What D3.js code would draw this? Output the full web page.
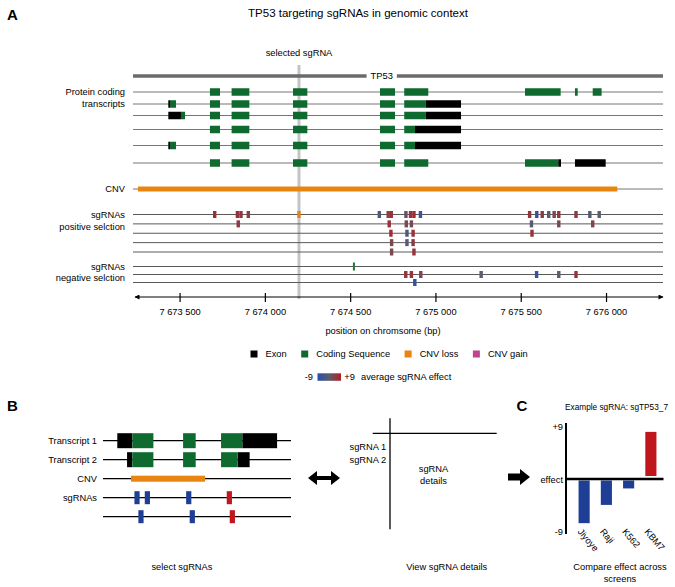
<!DOCTYPE html>
<html><head><meta charset="utf-8">
<script src="https://cdn.jsdelivr.net/npm/d3@7"></script>
<style>
body{margin:0;background:#fff}
text{font-family:"Liberation Sans",Arial,Helvetica,sans-serif;fill:#000}
</style>
</head><body><svg id="c" width="675" height="587" xmlns="http://www.w3.org/2000/svg"></svg>
<script>
// ================= DATA =================
const titleText = "TP53 targeting sgRNAs in genomic context";
const viewWindow = [7673227, 7676334];           // genomic window shown (bp)
const tickValues = [7673500, 7674000, 7674500, 7675000, 7675500, 7676000];
const geneName = "TP53";
const geneLabelPos = 7674685;
const selectedSgRNA = ["p1", 7674200];           // highlighted (orange) sgRNA + grey guide line
const otherHighlighted = [["n1", 7674522]];      // green marked sgRNA
const transcripts = ["t1","t2","t3","t4","t5","t6"];
const sharedCodingExons = [[7673678,7673737],[7673805,7673909],[7674165,7674249],[7674675,7674763]];
const codingSegments = [
  ["t1",7674817,7674958],["t1",7675525,7675734],["t1",7675818,7675834],["t1",7675922,7675974],
  ["t2",7673444,7673479],["t2",7674817,7674943],
  ["t3",7673508,7673532],["t3",7674817,7674943],
  ["t4",7674817,7674880],
  ["t5",7673444,7673479],["t5",7674817,7674880],
  ["t6",7674817,7674958],["t6",7675525,7675720]
];
const exonSegments = [
  ["t2",7673434,7673444],["t2",7674943,7675150],
  ["t3",7673434,7673508],["t3",7674943,7675150],
  ["t4",7674880,7675150],
  ["t5",7673434,7673444],["t5",7674880,7675150],
  ["t6",7675720,7675736],["t6",7675818,7675998]
];
const cnvLoss = [[7673256, 7676066]];
const positiveRows = ["p1","p2","p3","p4","p5"];
const negativeRows = ["n1","n2","n3"];
// [row, centre position (bp), average sgRNA effect]
const sgRNAs = [
  ["p1",7673706,7],["p1",7673839,6],["p1",7673860,6],["p1",7673903,4],
  ["p1",7674671,-2],["p1",7674723,4],["p1",7674741,6],["p1",7674827,1],["p1",7674854,6],["p1",7674874,7],["p1",7674912,-6],
  ["p1",7675552,6],["p1",7675594,-7],["p1",7675626,5],["p1",7675664,-1],["p1",7675696,3],["p1",7675723,6],["p1",7675824,5],["p1",7675905,-1],["p1",7675960,0],
  ["p2",7673844,5],["p2",7674729,6],["p2",7674829,3],["p2",7674859,3],["p2",7675563,-1],["p2",7675723,3],["p2",7675922,4],
  ["p3",7674739,7],["p3",7674833,-2],["p3",7674869,6],["p3",7675566,6],
  ["p4",7674743,3],["p4",7674833,-1],["p4",7674869,5],
  ["p5",7674743,3],["p5",7674874,6],
  ["n2",7674826,6],["n2",7674859,6],["n2",7674914,3],["n2",7675268,0],["n2",7675593,-7],["n2",7675723,0],["n2",7675824,6],
  ["n3",7674879,-8]
];
const legendItems = [["Exon","#000000"],["Coding Sequence","#0f6a2f"],["CNV loss","#ea8410"],["CNV gain","#c0458c"]];
const effectDomain = [-9, 0, 9];

// Panel B schematic (arbitrary units 0..100)
const schemRows = ["Transcript 1","Transcript 2","CNV","sgRNAs",""];
const schemExons = [["Transcript 1",7.6,15.6],["Transcript 1",74.1,92.6],["Transcript 2",12.8,15.6],["Transcript 2",71.6,78]];
const schemCoding = [["Transcript 1",15.6,26.8],["Transcript 1",42.6,49.3],["Transcript 1",62.8,74.1],
                     ["Transcript 2",15.6,26.8],["Transcript 2",42.6,49.3],["Transcript 2",62.8,71.6]];
const schemCnv = [["CNV",14.9,54.3]];
const schemSgRNAs = [["sgRNAs",18.1,-8],["sgRNAs",23.6,-8],["sgRNAs",45.6,-8],["sgRNAs",67.2,8],
                     ["",20.2,-8],["",47.5,-8],["",68.8,8]];
const detailRows = ["sgRNA 1","sgRNA 2"];

// Panel C
const screens = ["Jiyoye","Raji","K562","KBM7"];
const screenEffects = [-7.5, -4.4, -1.6, 8.0];
const exampleName = "Example sgRNA: sgTP53_7";

// ================= DRAW =================
const svg = d3.select("#c");
svg.append("rect").attr("width",675).attr("height",587).attr("fill","#fff");
const FS = 9.3;
const font = '"Liberation Sans",Arial,sans-serif';

const green = "#0f6a2f", orange = "#ea8410";
const effectColor = d3.scaleLinear().domain(effectDomain).range(["#2a4fb2","#5c5c6a","#b41f22"]);

// ---------- Panel A ----------
const x = d3.scaleLinear().domain(viewWindow).range([133, 663]);
const yT = d3.scaleOrdinal().domain(transcripts).range([92, 104, 115.5, 129.5, 145.5, 163]);
const yP = d3.scalePoint().domain(positiveRows).range([214.5, 252]);
const yN = d3.scalePoint().domain(negativeRows).range([266.5, 282.5]);
const yS = r => r[0]==="p" ? yP(r) : yN(r);
const yCnv = 189, yGene = 76, yAxis = 297;

svg.append("text").attr("x",7).attr("y",14).attr("dominant-baseline","central")
  .attr("font-size",15).attr("font-weight","bold").text("A");
svg.append("text").attr("x",358).attr("y",13).attr("text-anchor","middle").attr("dominant-baseline","central")
  .attr("font-size",11.5).text(titleText);

// selected sgRNA guide line
svg.append("line").attr("x1",x(selectedSgRNA[1])).attr("x2",x(selectedSgRNA[1]))
  .attr("y1",65).attr("y2",yAxis+2).attr("stroke","#c4c4c4").attr("stroke-width",3);
svg.append("text").attr("x",x(selectedSgRNA[1])).attr("y",53).attr("text-anchor","middle")
  .attr("dominant-baseline","central").attr("font-size",FS).text("selected sgRNA");

// gene line
const gl = svg.append("text").attr("x",x(geneLabelPos)).attr("y",yGene).attr("text-anchor","middle")
  .attr("dominant-baseline","central").attr("font-size",FS).text(geneName);
const gw = gl.node().getComputedTextLength();
svg.append("line").attr("x1",x(viewWindow[0])).attr("x2",x(geneLabelPos)-gw/2-4)
  .attr("y1",yGene).attr("y2",yGene).attr("stroke","#6b6b6b").attr("stroke-width",3.5);
svg.append("line").attr("x1",x(geneLabelPos)+gw/2+4).attr("x2",x(viewWindow[1]))
  .attr("y1",yGene).attr("y2",yGene).attr("stroke","#6b6b6b").attr("stroke-width",3.5);

// transcripts
svg.append("g").selectAll("line").data(transcripts).join("line")
  .attr("x1",x(viewWindow[0])).attr("x2",x(viewWindow[1]))
  .attr("y1",d=>yT(d)).attr("y2",d=>yT(d)).attr("stroke","#777").attr("stroke-width",1);
const allCoding = transcripts.flatMap(t => sharedCodingExons.map(e => [t, e[0], e[1]])).concat(codingSegments);
const exH = 7.5;
svg.append("g").selectAll("rect").data(allCoding).join("rect")
  .attr("x",d=>x(d[1])).attr("width",d=>x(d[2])-x(d[1]))
  .attr("y",d=>yT(d[0])-exH/2).attr("height",exH).attr("fill",green);
svg.append("g").selectAll("rect").data(exonSegments).join("rect")
  .attr("x",d=>x(d[1])).attr("width",d=>x(d[2])-x(d[1]))
  .attr("y",d=>yT(d[0])-exH/2).attr("height",exH).attr("fill","#000");
svg.append("text").attr("x",125).attr("y",yT("t1")).attr("text-anchor","end").attr("dominant-baseline","central")
  .attr("font-size",FS).text("Protein coding");
svg.append("text").attr("x",125).attr("y",yT("t2")).attr("text-anchor","end").attr("dominant-baseline","central")
  .attr("font-size",FS).text("transcripts");

// CNV
svg.append("line").attr("x1",x(viewWindow[0])).attr("x2",x(viewWindow[1]))
  .attr("y1",yCnv).attr("y2",yCnv).attr("stroke","#777").attr("stroke-width",1);
svg.append("g").selectAll("rect").data(cnvLoss).join("rect")
  .attr("x",d=>x(d[0])).attr("width",d=>x(d[1])-x(d[0]))
  .attr("y",yCnv-2.5).attr("height",5).attr("fill",orange);
svg.append("text").attr("x",125).attr("y",yCnv).attr("text-anchor","end").attr("dominant-baseline","central")
  .attr("font-size",FS).text("CNV");

// sgRNA tracks
svg.append("g").selectAll("line").data(positiveRows.concat(negativeRows)).join("line")
  .attr("x1",x(viewWindow[0])).attr("x2",x(viewWindow[1]))
  .attr("y1",d=>yS(d)).attr("y2",d=>yS(d)).attr("stroke","#5a5a5a").attr("stroke-width",1);
const sgW = d => Math.max(3.2, x(d+10)-x(d-10));
svg.append("g").selectAll("rect").data(sgRNAs).join("rect")
  .attr("x",d=>x(d[1])-sgW(d[1])/2).attr("width",d=>sgW(d[1]))
  .attr("y",d=>yS(d[0])-3.5).attr("height",7).attr("fill",d=>effectColor(d[2]));
svg.append("rect").attr("x",x(selectedSgRNA[1])-1.7).attr("width",3.4)
  .attr("y",yS(selectedSgRNA[0])-3.5).attr("height",7).attr("fill",orange);
svg.append("g").selectAll("rect").data(otherHighlighted).join("rect")
  .attr("x",d=>x(d[1])-1).attr("width",2)
  .attr("y",d=>yS(d[0])-4).attr("height",8).attr("fill","#1d7a35");
[["sgRNAs",yP("p1")],["positive selction",226.5],["sgRNAs",yN("n1")],["negative selction",277.5]].forEach(l=>{
  svg.append("text").attr("x",125).attr("y",l[1]).attr("text-anchor","end").attr("dominant-baseline","central")
    .attr("font-size",FS).text(l[0]);
});

// axis
const defs = svg.append("defs");
defs.append("marker").attr("id","ah").attr("viewBox","0 0 10 10").attr("refX",9).attr("refY",5)
  .attr("markerWidth",7).attr("markerHeight",5).attr("markerUnits","userSpaceOnUse").attr("orient","auto-start-reverse")
  .append("path").attr("d","M0,0L10,5L0,10z").attr("fill","#000");
svg.append("line").attr("x1",x(viewWindow[0])+2).attr("x2",x(viewWindow[1]))
  .attr("y1",yAxis).attr("y2",yAxis).attr("stroke","#000").attr("stroke-width",1)
  .attr("marker-start","url(#ah)").attr("marker-end","url(#ah)");
const spaceFmt = d3.formatLocale({decimal:".",thousands:" ",grouping:[3],currency:["",""]}).format(",");
const ax = svg.append("g").attr("transform",`translate(0,${yAxis})`)
  .call(d3.axisBottom(x).tickValues(tickValues).tickFormat(spaceFmt).tickSize(5).tickPadding(6));
ax.select(".domain").remove();
ax.selectAll(".tick line").attr("y1",-4).attr("y2",5).attr("stroke-width",1.2);
ax.selectAll(".tick text").attr("font-family",font).attr("font-size",FS).attr("fill","#000");
svg.append("text").attr("x",383).attr("y",331).attr("text-anchor","middle").attr("dominant-baseline","central")
  .attr("font-size",FS).text("position on chromsome (bp)");

// legend row 1
let lx = 250.5;
legendItems.forEach(it=>{
  svg.append("rect").attr("x",lx).attr("y",354-3.5).attr("width",7).attr("height",7).attr("fill",it[1]);
  const t = svg.append("text").attr("x",lx+15).attr("y",354).attr("dominant-baseline","central")
    .attr("font-size",FS).text(it[0]);
  lx += 15 + t.node().getComputedTextLength() + 14.5;
});
// legend row 2 (gradient)
const grad = defs.append("linearGradient").attr("id","eg");
effectDomain.forEach((v,i)=>grad.append("stop").attr("offset",(i/(effectDomain.length-1)*100)+"%").attr("stop-color",effectColor(v)));
svg.append("text").attr("x",313).attr("y",377).attr("text-anchor","end").attr("dominant-baseline","central")
  .attr("font-size",FS).text("-9");
svg.append("rect").attr("x",317.5).attr("y",373.3).attr("width",23.5).attr("height",7.5).attr("fill","url(#eg)");
svg.append("text").attr("x",344.3).attr("y",377).attr("dominant-baseline","central").attr("font-size",FS).text("+9");
svg.append("text").attr("x",361).attr("y",377).attr("dominant-baseline","central").attr("font-size",FS).text("average sgRNA effect");

// ---------- Panel B ----------
svg.append("text").attr("x",7).attr("y",405).attr("dominant-baseline","central")
  .attr("font-size",15).attr("font-weight","bold").text("B");
const xs = d3.scaleLinear().domain([0,100]).range([103, 291]);
const ys = d3.scalePoint().domain(schemRows).range([440.7, 516.7]);
svg.append("g").selectAll("line").data(schemRows).join("line")
  .attr("x1",xs(0)).attr("x2",xs(100)).attr("y1",d=>ys(d)).attr("y2",d=>ys(d))
  .attr("stroke","#000").attr("stroke-width",1.2);
svg.append("g").selectAll("text").data(schemRows.filter(d=>d)).join("text")
  .attr("x",97).attr("y",d=>ys(d)).attr("text-anchor","end").attr("dominant-baseline","central")
  .attr("font-size",FS).text(d=>d);
svg.append("g").selectAll("rect").data(schemExons).join("rect")
  .attr("x",d=>xs(d[1])).attr("width",d=>xs(d[2])-xs(d[1])).attr("y",d=>ys(d[0])-7.5).attr("height",15).attr("fill","#000");
svg.append("g").selectAll("rect").data(schemCoding).join("rect")
  .attr("x",d=>xs(d[1])).attr("width",d=>xs(d[2])-xs(d[1])).attr("y",d=>ys(d[0])-7.5).attr("height",15).attr("fill",green);
svg.append("g").selectAll("rect").data(schemCnv).join("rect")
  .attr("x",d=>xs(d[1])).attr("width",d=>xs(d[2])-xs(d[1])).attr("y",d=>ys(d[0])-3).attr("height",6).attr("fill",orange);
svg.append("g").selectAll("rect").data(schemSgRNAs).join("rect")
  .attr("x",d=>xs(d[1])-2.6).attr("width",5.2).attr("y",d=>ys(d[0])-6.5).attr("height",13)
  .attr("fill",d=>d[2]<0?"#1f3f96":"#c0171c");
svg.append("text").attr("x",xs(42)).attr("y",567).attr("text-anchor","middle").attr("dominant-baseline","central")
  .attr("font-size",FS).text("select sgRNAs");

// double arrow
svg.append("path").attr("d","M308,478 L317,471 L317,476 L331,476 L331,471 L340,478 L331,485 L331,480 L317,480 L317,485 Z").attr("fill","#000");

// detail box
svg.append("line").attr("x1",372.7).attr("x2",496.7).attr("y1",433.3).attr("y2",433.3).attr("stroke","#000").attr("stroke-width",1.3);
svg.append("line").attr("x1",390).attr("x2",390).attr("y1",418.3).attr("y2",529.3).attr("stroke","#000").attr("stroke-width",1.3);
const yd = d3.scalePoint().domain(detailRows).range([446.7, 460]);
svg.append("g").selectAll("text").data(detailRows).join("text")
  .attr("x",349.5).attr("y",d=>yd(d)).attr("dominant-baseline","central").attr("font-size",FS).text(d=>d);
svg.append("text").attr("x",433.5).attr("y",469.3).attr("text-anchor","middle").attr("dominant-baseline","central").attr("font-size",FS).text("sgRNA");
svg.append("text").attr("x",433.5).attr("y",481).attr("text-anchor","middle").attr("dominant-baseline","central").attr("font-size",FS).text("details");
svg.append("text").attr("x",446.7).attr("y",567).attr("text-anchor","middle").attr("dominant-baseline","central")
  .attr("font-size",FS).text("View sgRNA details");

// right arrow
svg.append("path").attr("d","M508,473.5 L520,473.5 L520,469 L530,477 L520,485 L520,480.5 L508,480.5 Z").attr("fill","#000");

// ---------- Panel C ----------
svg.append("text").attr("x",516.5).attr("y",405).attr("dominant-baseline","central")
  .attr("font-size",15).attr("font-weight","bold").text("C");
svg.append("text").attr("x",616.5).attr("y",407.3).attr("text-anchor","middle").attr("dominant-baseline","central")
  .attr("font-size",8.2).attr("textLength",103).attr("lengthAdjust","spacingAndGlyphs").text(exampleName);
const yC = d3.scaleLinear().domain([-9,9]).range([532,426]);
const xC = d3.scaleBand().domain(screens).range([573,662]).paddingInner(0.5).paddingOuter(0.25);
svg.append("g").selectAll("rect").data(screens).join("rect")
  .attr("x",d=>xC(d)).attr("width",xC.bandwidth())
  .attr("y",(d,i)=>screenEffects[i]<0 ? yC(0)+1.5 : yC(screenEffects[i]))
  .attr("height",(d,i)=>screenEffects[i]<0 ? yC(screenEffects[i])-yC(0)-1.5 : yC(0)-yC(screenEffects[i])-3)
  .attr("fill",(d,i)=>screenEffects[i]<0?"#1f3f96":"#c0171c");
svg.append("line").attr("x1",566).attr("x2",566).attr("y1",423).attr("y2",534).attr("stroke","#000").attr("stroke-width",2);
svg.append("line").attr("x1",566).attr("x2",663.5).attr("y1",yC(0)).attr("y2",yC(0)).attr("stroke","#000").attr("stroke-width",2.5);
[["+9",yC(9)+0.7],["effect",yC(0)+1],["-9",yC(-9)]].forEach(l=>{
  svg.append("text").attr("x",563).attr("y",l[1]).attr("text-anchor","end").attr("dominant-baseline","central")
    .attr("font-size",FS).text(l[0]);
});
svg.append("g").selectAll("text").data(screens).join("text")
  .attr("transform",d=>`translate(${xC(d)+1},${530}) rotate(50)`)
  .attr("dominant-baseline","central").attr("font-size",FS).text(d=>d);
svg.append("text").attr("x",620).attr("y",567).attr("text-anchor","middle").attr("dominant-baseline","central")
  .attr("font-size",FS).text("Compare effect across");
svg.append("text").attr("x",620).attr("y",579).attr("text-anchor","middle").attr("dominant-baseline","central")
  .attr("font-size",FS).text("screens");
</script>
</body></html>
